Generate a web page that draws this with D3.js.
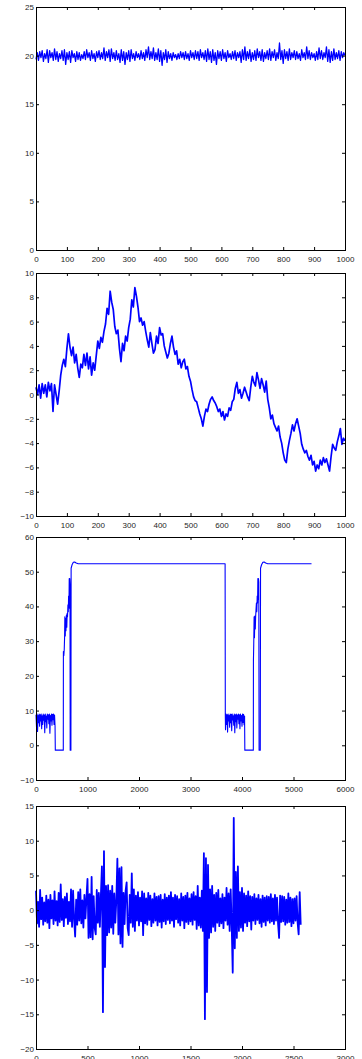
<!DOCTYPE html>
<html>
<head>
<meta charset="utf-8">
<script src="https://cdn.jsdelivr.net/npm/d3@7"></script>
<style>
  html, body { margin: 0; padding: 0; background: #fff; }
  svg { display: block; }
  .tick text { font-family: "Liberation Sans", Arial, sans-serif; font-size: 8px; fill: #262626; }
</style>
</head>
<body>
<div id="chart"></div>
<script>
// panel 1: noise around 20, 1000 samples
const p1Values = [
  19.6, 20.3, 19.5, 20.4, 19.8, 20.5, 19.4, 20.2, 19.7, 20.6,
  19.3, 20.5, 19.8, 20.3, 19.5, 20.7, 19.6, 20.4, 19.4, 20.2,
  19.7, 20.5, 19.5, 20.6, 19.1, 20.3, 19.6, 20.4, 19.3, 20.5,
  19.8, 20.2, 19.4, 20.4, 19.6, 20.3, 19.5, 20.1, 19.7, 20.4,
  19.6, 20.6, 19.8, 20.3, 19.5, 20.5, 19.7, 20.2, 19.4, 20.4,
  19.8, 20.5, 19.6, 20.3, 19.7, 20.8, 19.5, 20.4, 19.8, 20.6,
  19.4, 20.7, 19.7, 20.3, 19.5, 20.5, 19.6, 20.2, 19.3, 20.6,
  19.5, 20.4, 19.1, 20.3, 19.6, 20.5, 19.4, 20.6, 19.7, 20.2,
  19.5, 20.4, 19.8, 20.2, 19.6, 20.5, 19.7, 20.3, 19.5, 20.6,
  19.8, 20.9, 19.6, 20.4, 19.7, 20.8, 19.5, 20.3, 19.6, 20.7,
  19.4, 20.5, 19.0, 20.3, 19.6, 20.6, 19.3, 20.4, 19.7, 20.2,
  19.5, 20.3, 19.8, 20.1, 19.6, 20.2, 19.7, 20.4, 19.8, 20.3,
  19.6, 20.4, 19.7, 20.2, 19.5, 20.5, 19.8, 20.3, 19.6, 20.5,
  19.7, 20.4, 19.5, 20.6, 19.8, 20.3, 19.6, 20.5, 19.4, 20.7,
  19.6, 20.4, 19.3, 20.6, 19.5, 20.3, 19.1, 20.5, 19.7, 20.4,
  19.5, 20.6, 19.7, 20.3, 19.4, 20.5, 19.8, 20.2, 19.6, 20.4,
  19.7, 20.5, 19.5, 20.3, 19.8, 20.4, 19.3, 20.6, 19.6, 20.9,
  19.5, 20.4, 19.7, 20.6, 19.4, 20.3, 19.6, 20.5, 19.5, 20.7,
  19.8, 20.4, 19.5, 20.6, 19.4, 20.3, 19.7, 20.5, 19.6, 20.7,
  19.5, 20.4, 19.8, 20.6, 19.5, 20.3, 19.7, 21.3, 19.6, 20.5,
  19.2, 20.6, 19.7, 20.4, 19.5, 20.7, 19.6, 20.3, 19.8, 20.5,
  19.6, 20.4, 19.7, 20.2, 19.5, 20.6, 19.8, 20.3, 19.6, 20.9,
  19.7, 20.5, 19.6, 20.3, 19.8, 20.2, 19.5, 20.4, 19.6, 20.8,
  19.7, 20.5, 19.6, 20.3, 19.8, 20.9, 19.4, 20.6, 19.3, 20.4,
  19.5, 20.7, 19.6, 20.3, 19.7, 20.5, 19.5, 20.4, 19.8, 20.3,
  20.0
];

// panel 2: random walk, 1000 samples (every 5th read)
const p2Values = [
  0.6, 0.0, 0.8, -0.3, 0.9, 0.1, 0.8, -0.2, 1.0, 0.3,
  0.9, -1.4, 0.8, 0.0, -0.8, 0.3, 1.6, 2.4, 2.9, 2.3,
  3.8, 5.0, 3.9, 3.2, 3.9, 2.6, 3.3, 2.2, 1.4, 2.5,
  2.2, 3.3, 2.4, 3.4, 2.1, 3.1, 1.6, 2.6, 2.0, 3.2,
  4.4, 3.8, 4.7, 4.3, 5.2, 5.8, 7.1, 6.6, 8.5, 7.6,
  7.0, 5.6, 5.0, 5.3, 3.8, 2.7, 4.2, 3.6, 4.8, 4.4,
  5.5, 6.2, 7.8, 7.2, 8.8, 8.1, 7.2, 6.0, 6.3, 5.7,
  6.0, 5.2, 4.5, 3.9, 5.1, 4.2, 3.4, 3.7, 4.8, 4.2,
  5.5, 4.9, 5.0, 4.0, 3.5, 3.0, 3.4, 4.2, 4.8, 3.9,
  3.3, 3.6, 2.5, 2.9, 2.2, 2.7, 2.9, 2.1, 2.3, 1.5,
  1.1, 0.4, -0.2, -0.5, -0.6, -1.1, -1.6, -2.0, -2.6, -1.8,
  -1.2, -1.4, -0.8, -0.4, -0.2, -0.5, -0.7, -1.0, -1.4, -1.2,
  -1.8, -1.4, -2.1, -1.6, -1.8, -1.1, -1.3, -0.6, -0.4, 0.5,
  1.0, 0.1, 0.4, -0.3, 0.1, 0.6, 0.2, -0.2, -0.5, 0.6,
  1.5, 1.0, 0.7, 1.8, 1.2, 0.5, 1.3, 0.8, 0.2, 1.1,
  -0.4, -1.1, -2.0, -1.7, -2.4, -2.7, -3.0, -2.6, -3.5, -4.0,
  -4.8, -5.4, -5.6, -4.5, -3.8, -3.2, -2.5, -3.0, -2.4, -2.0,
  -2.6, -3.2, -4.1, -4.5, -4.8, -4.6, -5.1, -5.4, -5.0, -5.8,
  -5.5, -6.3, -5.8, -6.1, -5.4, -5.8, -5.2, -5.6, -5.3, -5.8,
  -6.3, -5.1, -4.1, -4.4, -4.6, -3.9, -3.4, -2.8, -4.1, -3.6,
  -3.8
];

// panel 3: two switching cycles
const p3X = [
  0, 10, 20, 30, 40, 50, 60, 70, 80, 90, 100, 110, 120, 130, 140, 150, 160, 170, 180,
  190, 200, 210, 220, 230, 240, 250, 260, 270, 280, 290, 300, 310, 320, 330, 340, 350, 360, 370,
  375, 530, 532, 540, 548, 555, 560, 568, 575, 582, 590, 598, 605, 612, 620, 627, 633, 640,
  645, 650, 655, 660, 664, 678, 682, 700, 725, 750, 780, 820, 3672, 3676,
  3680, 3690, 3700, 3710, 3720, 3730, 3740, 3750, 3760, 3770, 3780, 3790, 3800, 3810, 3820,
  3830, 3840, 3850, 3860, 3870, 3880, 3890, 3900, 3910, 3920, 3930, 3940, 3950, 3960, 3970,
  3980, 3990, 4000, 4010, 4020, 4030, 4040, 4050,
  4055, 4220, 4222, 4228, 4235, 4242, 4250, 4258, 4265, 4272, 4280, 4288, 4295, 4302,
  4308, 4314, 4320, 4326, 4332, 4355, 4360, 4380, 4405, 4430, 4460, 4500, 5350
];
const p3Y = [
  8.8, 5.2, 9.0, 4.0, 8.6, 6.5, 9.0, 5.5, 8.8, 7.0, 9.0, 4.8, 8.5, 6.0, 9.0, 7.2, 8.7, 3.6, 9.0,
  6.8, 8.4, 5.0, 9.0, 7.5, 8.8, 6.2, 9.0, 3.5, 8.6, 7.0, 9.0, 5.8, 8.9, 7.4, 9.0, 6.0, 8.7, 5.5,
  -1.4, -1.4, 27.0, 25.8, 27.5, 31.0, 37.0, 31.5, 36.5, 33.0, 37.5, 34.0, 38.0, 37.0, 40.5, 38.5, 43.0, 40.0,
  48.0, 39.5, 48.0, 46.5, -1.4, -1.4, 51.0, 52.0, 52.7, 52.8, 52.5, 52.3, 52.3, 8.5,
  4.5, 9.0, 6.0, 8.8, 3.8, 9.0, 7.0, 8.6, 5.2, 9.0, 6.5, 8.9, 4.2, 9.0, 7.3,
  8.5, 5.8, 9.0, 3.6, 8.8, 6.8, 9.0, 5.0, 8.7, 7.5, 9.0, 6.2, 8.8, 4.8, 9.0,
  7.0, 8.6, 5.5, 9.0, 6.6, 8.9, 5.9, 8.4,
  -1.4, -1.4, 24.5, 29.0, 37.0, 31.0, 37.2, 33.5, 37.0, 39.0, 41.0, 38.5, 43.0, 41.0,
  48.0, 42.0, 48.0, 47.0, -1.4, -1.4, 51.0, 52.0, 52.7, 52.8, 52.5, 52.3, 52.3
];

// panel 4: noise with bursts, sampled every 10
const p4Step = 10;
const p4Values = [
  2.8, -1.9, 1.2, -2.4, 2.9, -1.3, 1.8, -2.1, 1.1, -1.6,
  2.1, -1.8, 1.5, -2.6, 2.2, -1.2, 1.4, -2.0, 2.7, -1.5,
  1.3, -2.2, 2.5, -1.7, 3.7, -1.4, 1.6, -2.3, 1.9, -1.1,
  2.4, -2.0, 1.2, -1.6, 3.0, -2.4, 2.8, -1.3, -3.8, 1.5,
  -2.1, 2.6, -1.5, 3.0, -1.9, 1.4, -2.5, 2.2, -1.2, 1.8,
  4.5, -4.0, 2.3, -3.9, 4.8, -4.2, 2.0, -2.6, -3.5, 2.9,
  -1.8, 2.5, -2.4, 2.2, 6.3, -14.7, 8.5, -8.2, 3.5, -3.6,
  3.6, -3.2, 2.8, -2.5, 3.5, -3.4, 2.4, -1.8, 1.5, 7.4,
  -3.5, 6.0, -4.8, 6.2, -5.3, 2.5, -2.0, 2.8, 4.0, -2.6,
  -3.6, 2.2, -1.8, 5.3, -2.4, 3.0, -3.0, 2.1, -1.5, 2.6,
  -2.2, 1.8, -1.6, 2.7, -3.6, 2.4, -1.9, 1.7, -2.1, 2.5,
  -1.4, 2.1, -2.3, 1.6, -1.8, 2.4, -1.5, 1.9, -2.2, 2.0,
  -1.7, 2.2, -2.5, 1.5, -1.6, 2.3, -2.0, 1.8, -1.4, 2.1,
  -1.9, 2.6, -1.5, 1.8, -2.4, 2.2, -1.3, 2.0, -1.8, 1.6,
  -2.2, 2.4, -1.5, 1.9, -2.6, 2.1, -1.7, 2.5, -2.0, 1.7,
  -1.6, 2.3, -2.1, 2.6, -1.4, 2.0, -2.7, 3.5, -2.2, 1.8,
  -2.5, 2.8, -3.0, 8.2, -15.7, 7.5, -11.8, 6.5, -4.0, 3.0,
  -3.2, 3.5, -2.4, 2.2, -3.0, 2.5, -1.8, 2.9, -2.3, 1.7,
  -1.9, 2.3, -2.6, 1.8, -1.5, 3.2, -2.1, 2.4, -3.0, 3.0,
  -2.2, -9.0, 13.3, -5.5, 5.5, -4.0, 6.3, -3.0, 2.6, -2.5,
  3.2, -3.0, 2.4, -1.8, 2.1, -2.3, 2.7, -1.6, 2.0, -2.8,
  1.9, -1.5, 2.3, -2.0, 1.7, -1.4, 2.2, -1.9, 1.6, -2.4,
  2.1, -1.7, 1.8, -2.2, 2.0, -1.5, 1.9, -1.8, 2.3, -1.6,
  1.7, -2.0, 2.2, -1.5, 1.8, -1.9, -4.0, 2.1, -1.7, 2.0,
  -1.6, 1.9, -2.1, 1.5, -1.8, 2.4, -1.7, 1.8, -2.3, 1.6,
  -1.9, 1.7, -1.5, 2.0, -1.8, -3.5, 2.6, -2.1
];

// tick labels
const p1XTicks = [0, 100, 200, 300, 400, 500, 600, 700, 800, 900, 1000];
const p1YTicks = [0, 5, 10, 15, 20, 25];
const p2XTicks = [0, 100, 200, 300, 400, 500, 600, 700, 800, 900, 1000];
const p2YTicks = [-10, -8, -6, -4, -2, 0, 2, 4, 6, 8, 10];
const p3XTicks = [0, 1000, 2000, 3000, 4000, 5000, 6000];
const p3YTicks = [-10, 0, 10, 20, 30, 40, 50, 60];
const p4XTicks = [0, 500, 1000, 1500, 2000, 2500, 3000];
const p4YTicks = [-20, -15, -10, -5, 0, 5, 10, 15];

const W = 362, H = 1059;
const axLeft = 36, axRight = 345, panelH = 243;
const fmt = d3.format("d");

const svg = d3.select("#chart").append("svg")
  .attr("width", W)
  .attr("height", H);

const panels = [
  { top: 7, xDomain: [0, 1000], yDomain: [0, 25], xTicks: p1XTicks, yTicks: p1YTicks, lw: 1.3,
    points: p1Values.map((v, i) => [i * 1000 / (p1Values.length - 1), v]) },
  { top: 273, xDomain: [0, 1000], yDomain: [-10, 10], xTicks: p2XTicks, yTicks: p2YTicks, lw: 1.7,
    points: p2Values.map((v, i) => [i * 1000 / (p2Values.length - 1), v]) },
  { top: 537, xDomain: [0, 6000], yDomain: [-10, 60], xTicks: p3XTicks, yTicks: p3YTicks, lw: 1.1,
    points: p3X.map((v, i) => [v, p3Y[i]]) },
  { top: 806, xDomain: [0, 3000], yDomain: [-20, 15], xTicks: p4XTicks, yTicks: p4YTicks, lw: 1.8,
    points: p4Values.map((v, i) => [i * p4Step, v]) }
];

panels.forEach(p => drawPanel(p));

function drawPanel(p) {
  const g = svg.append("g");
  const bottom = p.top + panelH;

  const x = d3.scaleLinear().domain(p.xDomain).range([axLeft, axRight]);
  const y = d3.scaleLinear().domain(p.yDomain).range([bottom, p.top]);

  g.append("path")
    .datum(p.points)
    .attr("fill", "none")
    .attr("stroke", "#0000ff")
    .attr("stroke-width", p.lw)
    .attr("stroke-linejoin", "round")
    .attr("d", d3.line().x(d => x(d[0])).y(d => y(d[1])));

  // box with inward ticks on all four sides
  g.append("rect")
    .attr("x", axLeft + 0.5)
    .attr("y", p.top + 0.5)
    .attr("width", axRight - axLeft)
    .attr("height", panelH)
    .attr("fill", "none")
    .attr("stroke", "#000")
    .attr("stroke-width", 1);

  const strip = a => a.select(".domain").remove();

  g.append("g")
    .attr("transform", `translate(0,${bottom})`)
    .style("color", "#000")
    .call(d3.axisBottom(x).tickValues(p.xTicks).tickFormat(fmt).tickSize(-3).tickPadding(6))
    .call(strip);

  g.append("g")
    .attr("transform", `translate(0,${p.top})`)
    .style("color", "#000")
    .call(d3.axisTop(x).tickValues(p.xTicks).tickSize(-3).tickFormat(""))
    .call(strip);

  g.append("g")
    .attr("transform", `translate(${axLeft},0)`)
    .style("color", "#000")
    .call(d3.axisLeft(y).tickValues(p.yTicks).tickFormat(fmt).tickSize(-3).tickPadding(2))
    .call(strip);

  g.append("g")
    .attr("transform", `translate(${axRight},0)`)
    .style("color", "#000")
    .call(d3.axisRight(y).tickValues(p.yTicks).tickSize(-3).tickFormat(""))
    .call(strip);
}
</script>
</body>
</html>
